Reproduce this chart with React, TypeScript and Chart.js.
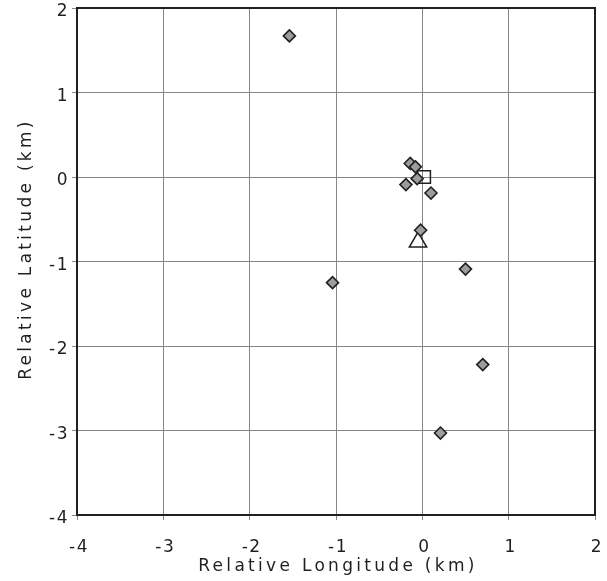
import React, { useEffect, useRef } from "react";
import { Chart, registerables } from "chart.js";

Chart.register(...registerables);

const diamondX = [-1.54, -0.14, -0.08, -0.06, -0.19, 0.1, -0.02, -1.04, 0.5, 0.7, 0.21];
const diamondY = [1.67, 0.16, 0.12, -0.02, -0.09, -0.19, -0.63, -1.25, -1.09, -2.22, -3.03];
const squareX = [0.02];
const squareY = [0.0];
const triangleX = [-0.05];
const triangleY = [-0.77];
const xRange = [-4, 2];
const yRange = [-4, 2];
const xTitle = "Relative Longitude (km)";
const yTitle = "Relative Latitude (km)";

const FONT_FAMILY = "'DejaVu Sans', Verdana, sans-serif";
const TICK_SPACING = "1.5px";
const TITLE_SPACING = "3.3px";
const INK = "#231f20";

const toPts = (xs: number[], ys: number[]) => xs.map((x, i) => ({ x, y: ys[i] }));

const spacing = {
  id: "spacing",
  beforeUpdate(chart: any) {
    chart.ctx.letterSpacing = TICK_SPACING;
  },
  beforeDraw(chart: any) {
    chart.ctx.letterSpacing = TICK_SPACING;
  },
};

const frame = {
  id: "frame",
  afterDatasetsDraw(chart: any) {
    const { ctx, chartArea: a } = chart;
    ctx.save();
    ctx.strokeStyle = INK;
    ctx.lineWidth = 2;
    ctx.strokeRect(a.left, a.top, a.right - a.left, a.bottom - a.top);
    ctx.restore();
  },
  afterDraw(chart: any) {
    const { ctx, chartArea: a } = chart;
    ctx.save();
    ctx.letterSpacing = TITLE_SPACING;
    ctx.fillStyle = INK;
    ctx.font = "17px " + FONT_FAMILY;
    ctx.textAlign = "center";
    ctx.textBaseline = "middle";
    ctx.fillText(xTitle, (a.left + a.right) / 2 + 2, 567);
    ctx.translate(27, 249);
    ctx.rotate(-Math.PI / 2);
    ctx.fillText(yTitle, 0, 0);
    ctx.restore();
  },
};

export default function App() {
  const ref = useRef<HTMLCanvasElement>(null);
  useEffect(() => {
    document.body.style.margin = "0";
    const chart = new Chart(ref.current!, {
      type: "scatter",
      data: {
        datasets: [
          {
            data: toPts(diamondX, diamondY),
            pointStyle: "rectRot",
            radius: 6,
            backgroundColor: "#9c9c9c",
            borderColor: INK,
            borderWidth: 1.6,
          },
          {
            data: toPts(squareX, squareY),
            pointStyle: "rect",
            radius: 9,
            backgroundColor: "rgba(0,0,0,0)",
            borderColor: INK,
            borderWidth: 1.5,
          },
          {
            data: toPts(triangleX, triangleY),
            pointStyle: "triangle",
            radius: 10,
            backgroundColor: "rgba(0,0,0,0)",
            borderColor: INK,
            borderWidth: 1.5,
          },
        ],
      },
      options: {
        animation: false,
        responsive: false,
        layout: { autoPadding: false, padding: { top: 8, right: 12, left: 4, bottom: 0 } },
        plugins: { legend: { display: false }, tooltip: { enabled: false } },
        scales: {
          x: {
            min: xRange[0],
            max: xRange[1],
            ticks: {
              stepSize: 1,
              color: INK,
              font: { family: FONT_FAMILY, size: 17, lineHeight: 3.2 },
              padding: 0,
              maxRotation: 0,
              labelOffset: 2,
            },
            grid: { color: "#868686", lineWidth: 1, tickLength: 5 },
            border: { color: INK, width: 2 },
            afterFit(scale: any) {
              scale.height = 66;
              scale.paddingLeft = 0;
              scale.paddingRight = 12;
            },
          },
          y: {
            min: yRange[0],
            max: yRange[1],
            ticks: {
              stepSize: 1,
              color: INK,
              font: { family: FONT_FAMILY, size: 17 },
              padding: 3,
              labelOffset: 4,
            },
            grid: { color: "#868686", lineWidth: 1, tickLength: 5 },
            border: { color: INK, width: 2 },
            afterFit(scale: any) {
              scale.width = 73;
              scale.paddingTop = 8;
              scale.paddingBottom = 0;
            },
          },
        },
      },
      plugins: [spacing, frame],
    });
    return () => chart.destroy();
  }, []);
  return (
    <div style={{ position: "absolute", left: 0, top: 0, width: 607, height: 581 }}>
      <canvas ref={ref} width={607} height={581} />
    </div>
  );
}
